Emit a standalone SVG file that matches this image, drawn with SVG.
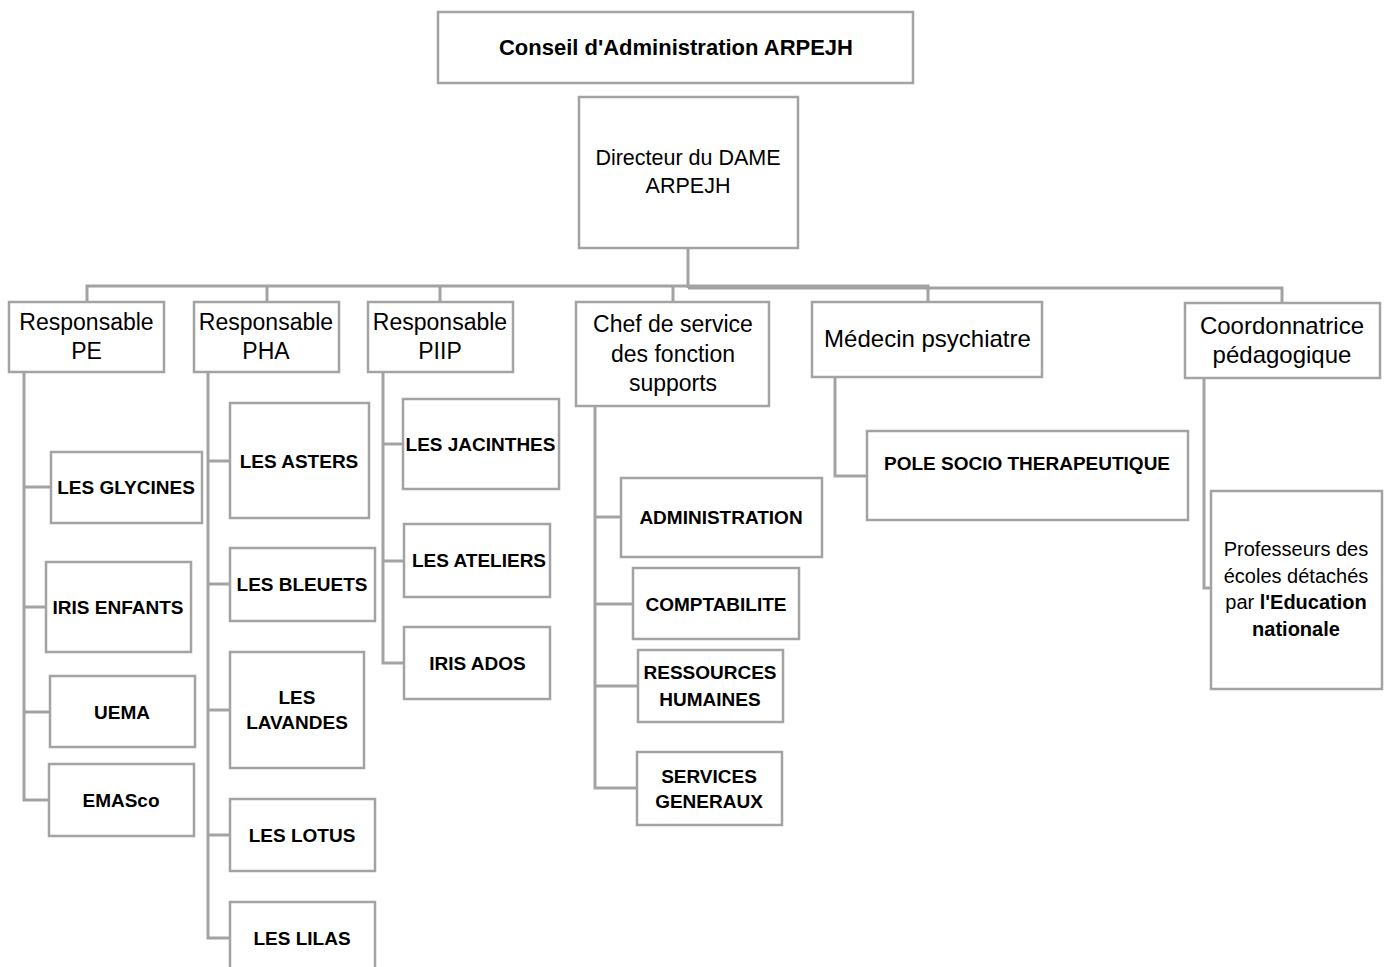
<svg xmlns="http://www.w3.org/2000/svg" width="1388" height="967" viewBox="0 0 1388 967">
<style>
.box{fill:#fff;stroke:#a3a3a3;stroke-width:2.5}
.ln{fill:none;stroke:#a3a3a3;stroke-width:3}
text{font-family:"Liberation Sans",Arial,sans-serif;fill:#000;text-anchor:middle}
.b{font-weight:bold;font-size:19px}
.r{font-size:23px}
</style>
<rect width="1388" height="967" fill="#fff"/>
<g id="connectors">
<path class="ln" d="M688 248V288"/>
<path class="ln" d="M87 302V286H928V302M267 286V302M440 286V302M673 286V302"/>
<path class="ln" d="M688 288H1282V303"/>
<path class="ln" d="M24 372V800H49M24 487H51M24 607H46M24 712H50"/>
<path class="ln" d="M208 372V938H230M208 461H230M208 584H230M208 710H230M208 835H230"/>
<path class="ln" d="M383 372V663H404M383 444H403M383 561H404"/>
<path class="ln" d="M595 406V788H637M595 517H621M595 604H633M595 686H638"/>
<path class="ln" d="M835 377V476H867"/>
<path class="ln" d="M1204 378V588H1211"/>
</g>
<g id="conseil"><rect class="box" x="438" y="12" width="475" height="71"/><text x="676" y="55" style="font-weight:bold;font-size:22px">Conseil d'Administration ARPEJH</text></g>
<g id="directeur"><rect class="box" x="579" y="97" width="219" height="151"/><text x="688" y="165" style="font-size:21.5px">Directeur du DAME</text><text x="688" y="193" style="font-size:21.5px">ARPEJH</text></g>
<g id="resp-pe"><rect class="box" x="9" y="302" width="155" height="70"/><text class="r" x="86.5" y="330">Responsable</text><text class="r" x="86.5" y="359">PE</text></g>
<g id="resp-pha"><rect class="box" x="194" y="302" width="145" height="70"/><text class="r" x="266" y="330">Responsable</text><text class="r" x="266" y="359">PHA</text></g>
<g id="resp-piip"><rect class="box" x="368" y="302" width="145" height="70"/><text class="r" x="440" y="330">Responsable</text><text class="r" x="440" y="359">PIIP</text></g>
<g id="chef"><rect class="box" x="576" y="302" width="193" height="104"/><text class="r" x="673" y="332">Chef de service</text><text class="r" x="673" y="362">des fonction</text><text class="r" x="673" y="391">supports</text></g>
<g id="medecin"><rect class="box" x="812" y="302" width="230" height="75"/><text x="927.5" y="347" style="font-size:24px">Médecin psychiatre</text></g>
<g id="coord"><rect class="box" x="1185" y="303" width="195" height="75"/><text x="1282" y="334" style="font-size:24px">Coordonnatrice</text><text x="1282" y="363" style="font-size:24px">pédagogique</text></g>
<g id="glycines"><rect class="box" x="51" y="452" width="151" height="71"/><text class="b" x="126" y="494">LES GLYCINES</text></g>
<g id="iris-enfants"><rect class="box" x="46" y="562" width="145" height="90"/><text class="b" x="118" y="614">IRIS ENFANTS</text></g>
<g id="uema"><rect class="box" x="50" y="676" width="145" height="71"/><text class="b" x="122" y="719">UEMA</text></g>
<g id="emasco"><rect class="box" x="49" y="764" width="145" height="72"/><text class="b" x="121" y="807">EMASco</text></g>
<g id="asters"><rect class="box" x="230" y="403" width="139" height="115"/><text class="b" x="299" y="468">LES ASTERS</text></g>
<g id="bleuets"><rect class="box" x="230" y="548" width="145" height="73"/><text class="b" x="302" y="591">LES BLEUETS</text></g>
<g id="lavandes"><rect class="box" x="230" y="652" width="134" height="116"/><text class="b" x="297" y="704">LES</text><text class="b" x="297" y="729">LAVANDES</text></g>
<g id="lotus"><rect class="box" x="230" y="799" width="145" height="72"/><text class="b" x="302" y="842">LES LOTUS</text></g>
<g id="lilas"><rect class="box" x="230" y="902" width="145" height="90"/><text class="b" x="302" y="945">LES LILAS</text></g>
<g id="jacinthes"><rect class="box" x="403" y="399" width="156" height="90"/><text class="b" x="480.5" y="451">LES JACINTHES</text></g>
<g id="ateliers"><rect class="box" x="404" y="524" width="146" height="73"/><text class="b" x="479" y="567">LES ATELIERS</text></g>
<g id="iris-ados"><rect class="box" x="404" y="627" width="146" height="72"/><text class="b" x="477.5" y="670">IRIS ADOS</text></g>
<g id="administration"><rect class="box" x="621" y="478" width="201" height="79"/><text class="b" x="721" y="524">ADMINISTRATION</text></g>
<g id="comptabilite"><rect class="box" x="633" y="568" width="166" height="71"/><text class="b" x="716" y="611">COMPTABILITE</text></g>
<g id="rh"><rect class="box" x="638" y="650" width="145" height="72"/><text class="b" x="710" y="679">RESSOURCES</text><text class="b" x="710" y="706">HUMAINES</text></g>
<g id="sg"><rect class="box" x="637" y="752" width="145" height="73"/><text class="b" x="709" y="783">SERVICES</text><text class="b" x="709" y="808">GENERAUX</text></g>
<g id="pole"><rect class="box" x="867" y="431" width="321" height="89"/><text class="b" x="1027" y="470">POLE SOCIO THERAPEUTIQUE</text></g>
<g id="professeurs"><rect class="box" x="1211" y="491" width="171" height="198"/>
<text x="1296" y="556" style="font-size:20px">Professeurs des</text>
<text x="1296" y="583" style="font-size:20px">écoles détachés</text>
<text x="1296" y="609" style="font-size:20px">par <tspan font-weight="bold">l'Education</tspan></text>
<text x="1296" y="636" style="font-size:20px;font-weight:bold">nationale</text></g>
</svg>
